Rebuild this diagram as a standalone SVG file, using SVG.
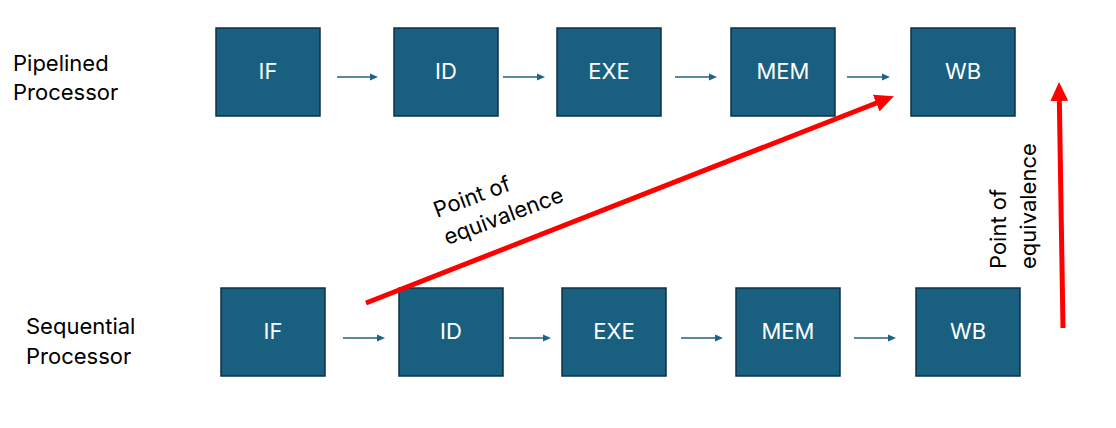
<svg xmlns="http://www.w3.org/2000/svg" width="1116" height="428" viewBox="0 0 1116 428">
<style>
.box{fill:#185F80;stroke:#0D3045;stroke-width:1.5}
.lbl{font-family:Inter,"Liberation Sans",sans-serif;font-size:22px;fill:#FFFFFF;text-anchor:middle}
.txt{font-family:Inter,"Liberation Sans",sans-serif;font-size:22px;fill:#000000}
.flow{stroke:#1F6286;stroke-width:1.6;fill:none}
.red{stroke:#FF0000;stroke-width:5;fill:none}
</style>
<defs>
<marker id="sh" viewBox="0 0 8 7" refX="1" refY="3.5" markerWidth="5" markerHeight="4.4" orient="auto" markerUnits="strokeWidth">
<path d="M0,0 L8,3.5 L0,7 z" fill="#1F6286"/>
</marker>
<marker id="rh" viewBox="0 0 19 18" refX="3" refY="9" markerWidth="3.8" markerHeight="3.6" orient="auto" markerUnits="strokeWidth">
<path d="M0,0 L19,9 L0,18 z" fill="#FF0000"/>
</marker>
</defs>
<g id="row-labels">
<text class="txt" x="13" y="71">Pipelined</text>
<text class="txt" x="13" y="100">Processor</text>
<text class="txt" x="26" y="334">Sequential</text>
<text class="txt" x="26" y="364">Processor</text>
</g>
<g id="p-if"><rect class="box" x="216" y="28" width="104" height="88"/><text class="lbl" x="268" y="79">IF</text></g>
<g id="p-id"><rect class="box" x="394" y="28" width="104" height="88"/><text class="lbl" x="446" y="79">ID</text></g>
<g id="p-exe"><rect class="box" x="557" y="28" width="104" height="88"/><text class="lbl" x="609" y="79">EXE</text></g>
<g id="p-mem"><rect class="box" x="731" y="28" width="104" height="88"/><text class="lbl" x="783" y="79">MEM</text></g>
<g id="p-wb"><rect class="box" x="911" y="28" width="104" height="88"/><text class="lbl" x="963" y="79">WB</text></g>
<g id="s-if"><rect class="box" x="221" y="288" width="104" height="88"/><text class="lbl" x="273" y="339">IF</text></g>
<g id="s-id"><rect class="box" x="399" y="288" width="104" height="88"/><text class="lbl" x="451" y="339">ID</text></g>
<g id="s-exe"><rect class="box" x="562" y="288" width="104" height="88"/><text class="lbl" x="614" y="339">EXE</text></g>
<g id="s-mem"><rect class="box" x="736" y="288" width="104" height="88"/><text class="lbl" x="788" y="339">MEM</text></g>
<g id="s-wb"><rect class="box" x="916" y="288" width="104" height="88"/><text class="lbl" x="968" y="339">WB</text></g>
<g id="connectors">
<line class="flow" x1="337" y1="77" x2="371" y2="77" marker-end="url(#sh)"/>
<line class="flow" x1="503" y1="77" x2="538" y2="77" marker-end="url(#sh)"/>
<line class="flow" x1="675" y1="77" x2="710" y2="77" marker-end="url(#sh)"/>
<line class="flow" x1="847" y1="77" x2="883" y2="77" marker-end="url(#sh)"/>
<line class="flow" x1="343" y1="338" x2="378" y2="338" marker-end="url(#sh)"/>
<line class="flow" x1="509" y1="338" x2="544" y2="338" marker-end="url(#sh)"/>
<line class="flow" x1="681" y1="338" x2="716" y2="338" marker-end="url(#sh)"/>
<line class="flow" x1="854" y1="338" x2="889" y2="338" marker-end="url(#sh)"/>
<line class="red" x1="366" y1="303" x2="879" y2="102" marker-end="url(#rh)"/>
<line class="red" x1="1063" y1="328" x2="1059.3" y2="98" marker-end="url(#rh)"/>
</g>
<g id="label-diagonal" transform="translate(437,218) rotate(-20.5)">
<text class="txt" x="0" y="0">Point of</text>
<text class="txt" x="0" y="29">equivalence</text>
</g>
<g id="label-vertical" transform="translate(1006,269) rotate(-90)">
<text class="txt" x="0" y="0">Point of</text>
<text class="txt" x="0" y="30">equivalence</text>
</g>
</svg>
